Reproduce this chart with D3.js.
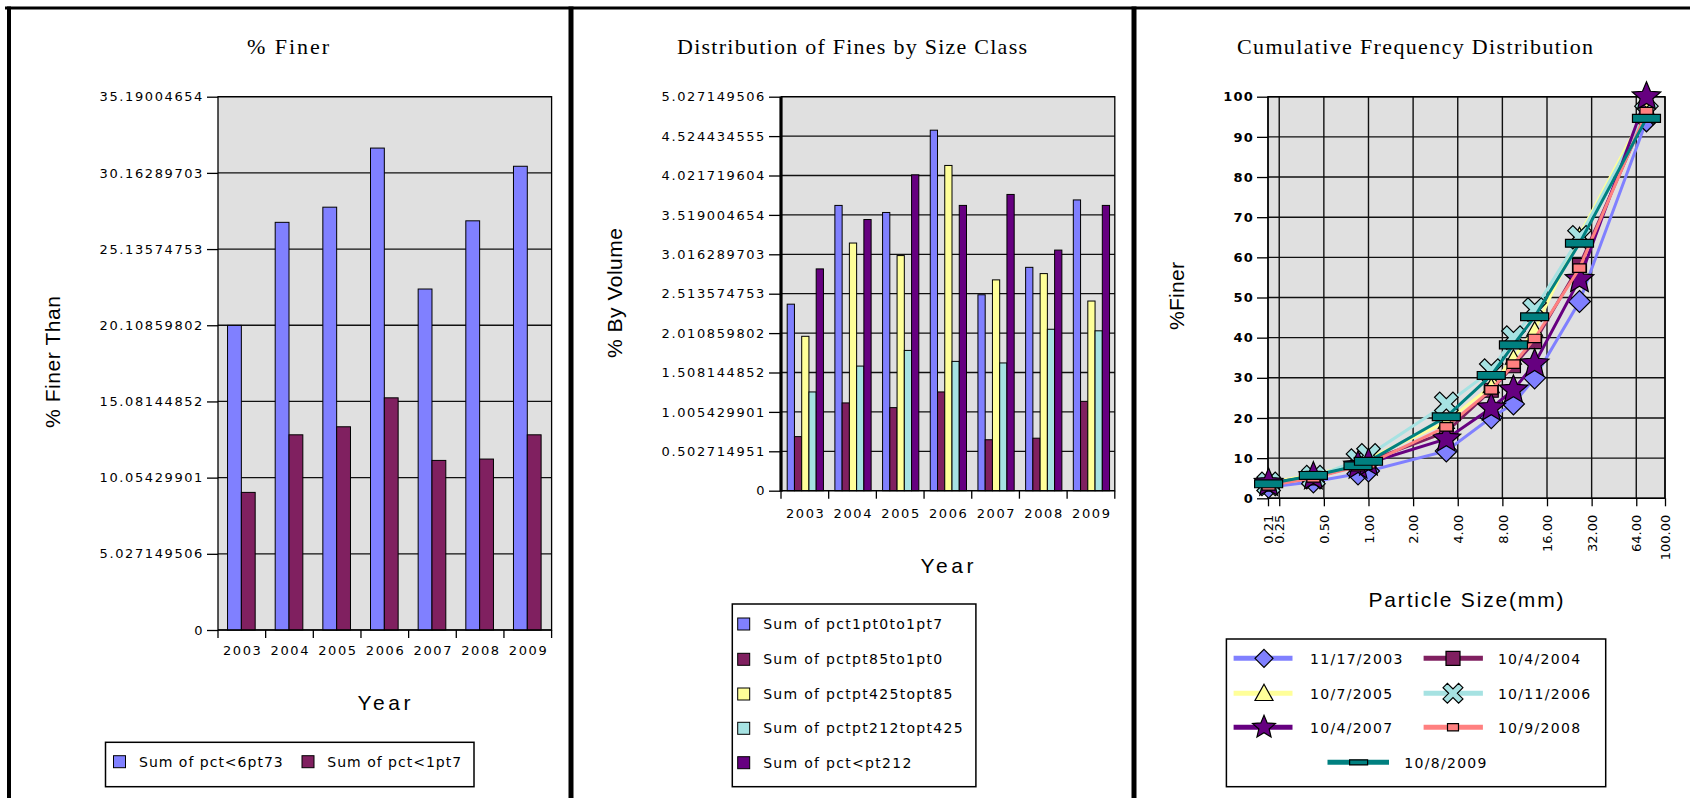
<!DOCTYPE html>
<html><head><meta charset="utf-8">
<script src="https://cdn.jsdelivr.net/npm/d3@7"></script>
<style>body{margin:0;background:#fff;} svg{display:block;}</style>
</head><body>
<svg id="c" width="1690" height="798"></svg>
<script>
// ---------------- DATA ----------------
const years = ["2003","2004","2005","2006","2007","2008","2009"];

// Panel 1: % Finer
const pctLt6pt73 = [20.1, 26.9, 27.9, 31.8, 22.5, 27.0, 30.6];
const pctLt1pt7  = [9.08, 12.88, 13.41, 15.32, 11.19, 11.28, 12.88];
const finerTicks = [0, 5.027149506, 10.05429901, 15.08144852, 20.10859802, 25.13574753, 30.16289703, 35.19004654];
const finerTickLabels = ["0","5.027149506","10.05429901","15.08144852","20.10859802","25.13574753","30.16289703","35.19004654"];
const finerSeriesNames = ["Sum of pct<6pt73","Sum of pct<1pt7"];

// Panel 2: Distribution of Fines by Size Class
const pct1pt0to1pt7   = [2.38, 3.64, 3.55, 4.60, 2.50, 2.85, 3.71];
const pctpt85to1pt0   = [0.69, 1.12, 1.06, 1.26, 0.65, 0.67, 1.14];
const pctpt425topt85  = [1.97, 3.16, 3.00, 4.15, 2.69, 2.77, 2.42];
const pctpt212topt425 = [1.26, 1.59, 1.79, 1.65, 1.63, 2.06, 2.04];
const pctLtpt212      = [2.83, 3.46, 4.03, 3.64, 3.78, 3.07, 3.64];
const volTicks = [0, 0.502714951, 1.005429901, 1.508144852, 2.010859802, 2.513574753, 3.016289703, 3.519004654, 4.021719604, 4.524434555, 5.027149506];
const volTickLabels = ["0","0.502714951","1.005429901","1.508144852","2.010859802","2.513574753","3.016289703","3.519004654","4.021719604","4.524434555","5.027149506"];
const volSeriesNames = ["Sum of pct1pt0to1pt7","Sum of pctpt85to1pt0","Sum of pctpt425topt85","Sum of pctpt212topt425","Sum of pct<pt212"];

// Panel 3: Cumulative Frequency Distribution
const sizes = [0.212, 0.425, 0.85, 1.0, 3.35, 6.73, 9.5, 13.2, 26.5, 75];
const sizeTicks = [0.21, 0.25, 0.5, 1, 2, 4, 8, 16, 32, 64, 100];
const finerTicks3 = [0,10,20,30,40,50,60,70,80,90,100];
const dates = ["11/17/2003","10/4/2004","10/7/2005","10/11/2006","10/4/2007","10/9/2008","10/8/2009"];
const cf2003 = [2.8, 4.1, 6.1, 6.8, 11.8, 20.1, 23.5, 30.0, 49.0, 94.0];
const cf2004 = [3.5, 5.1, 8.2, 9.3, 16.5, 26.9, 33.0, 39.0, 58.0, 96.0];
const cf2005 = [4.0, 5.8, 8.8, 9.9, 19.0, 27.9, 35.0, 42.0, 65.5, 97.0];
const cf2006 = [3.6, 5.3, 9.4, 10.7, 23.5, 31.8, 40.0, 47.0, 65.0, 96.0];
const cf2007 = [3.8, 5.4, 8.1, 8.8, 14.8, 22.5, 27.0, 33.5, 54.5, 100.0];
const cf2008 = [3.1, 5.1, 7.9, 8.6, 17.8, 27.0, 33.4, 39.8, 57.3, 96.3];
const cf2009 = [3.6, 5.7, 8.1, 9.2, 20.3, 30.6, 38.2, 45.2, 63.5, 94.6];

// ---------------- STYLE ----------------
const BLUE="#8080ff", MAROON="#802060", YELLOW="#ffff99", CYAN="#a6e2e2", PURPLE="#660080", SALMON="#ff8080", TEAL="#008080";
const PLOTBG="#e0e0e0";
const SANS="'DejaVu Sans', Verdana, sans-serif";
const SANS2="'Liberation Sans', Arial, sans-serif";
const SERIF="'Liberation Serif', 'Times New Roman', serif";

const svg = d3.select("#c");
const H = 798;

// panel frames
svg.append("rect").attr("x",5).attr("y",6.5).attr("width",1685).attr("height",3).attr("fill","#000");
[[7,4],[568.5,5],[1131.5,5]].forEach(([x,w]) =>
  svg.append("rect").attr("x",x).attr("y",6.5).attr("width",w).attr("height",H).attr("fill","#000"));

function title(x, y, txt, len){
  svg.append("text").attr("x",x).attr("y",y).attr("text-anchor","middle")
    .attr("font-family",SERIF).attr("font-size",22).attr("fill","#000")
    .attr("textLength",len).attr("lengthAdjust","spacing").text(txt);
}
function axisTitle(x, y, txt, len, rot){
  const t = svg.append("text").attr("text-anchor","middle")
    .attr("font-family",SANS2).attr("font-size",21).attr("fill","#000")
    .attr("textLength",len).attr("lengthAdjust","spacing").text(txt);
  if(rot) t.attr("transform",`translate(${x},${y}) rotate(-90)`);
  else t.attr("x",x).attr("y",y);
}
function styleTicks(g, bold, ls){
  g.select(".domain").remove();
  g.selectAll(".tick line").attr("stroke","#000").attr("stroke-width",1.3);
  g.selectAll(".tick text").attr("font-family",SANS).attr("font-size",13)
    .attr("font-weight", bold ? "bold" : "normal").attr("fill","#000")
    .style("letter-spacing", ls + "px");
}

// ============ PANEL 1 ============
{
  const P={x0:218,x1:551.6,y0:96.7,y1:630};
  const x = d3.scaleBand().domain(years).range([P.x0,P.x1]);
  const y = d3.scaleLinear().domain([0,35.19004654]).range([P.y1,P.y0]);
  const g = svg.append("g");
  g.append("rect").attr("x",P.x0).attr("y",P.y0).attr("width",P.x1-P.x0).attr("height",P.y1-P.y0).attr("fill",PLOTBG);
  g.selectAll("line.grid").data(finerTicks).join("line").attr("class","grid")
    .attr("x1",P.x0).attr("x2",P.x1).attr("y1",d=>y(d)).attr("y2",d=>y(d))
    .attr("stroke","#111").attr("stroke-width",1.3);
  const bw = x.bandwidth();
  const inner = d3.scaleBand().domain([0,1]).range([bw*0.2, bw*0.78]);
  const series = [{v:pctLt6pt73,c:BLUE},{v:pctLt1pt7,c:MAROON}];
  series.forEach((s,si)=>{
    g.selectAll(null).data(years).join("rect")
      .attr("x",d=>x(d)+inner(si)).attr("width",inner.bandwidth())
      .attr("y",(d,i)=>y(s.v[i])).attr("height",(d,i)=>y(0)-y(s.v[i]))
      .attr("fill",s.c).attr("stroke","#000").attr("stroke-width",1);
  });
  g.append("rect").attr("x",P.x0).attr("y",P.y0).attr("width",P.x1-P.x0).attr("height",P.y1-P.y0)
    .attr("fill","none").attr("stroke","#000").attr("stroke-width",1.3);
  const ya = g.append("g").attr("transform",`translate(${P.x0},0)`)
    .call(d3.axisLeft(y).tickValues(finerTicks).tickFormat((d,i)=>finerTickLabels[i]).tickSize(11).tickPadding(3));
  styleTicks(ya,false,1.6);
  const xa = g.append("g").attr("transform",`translate(0,${P.y1})`)
    .call(d3.axisBottom(x).tickSize(0).tickPadding(16));
  styleTicks(xa,false,1.6);
  xa.selectAll(".tick text").attr("dx","0.8");
  const bounds = years.map(d=>x(d)).concat([x.range()[1]]);
  g.selectAll(null).data(bounds).join("line").attr("x1",d=>d).attr("x2",d=>d)
    .attr("y1",P.y1).attr("y2",P.y1+8).attr("stroke","#000").attr("stroke-width",1.3);
  title(288, 54, "% Finer", 82);
  axisTitle(384, 710, "Year", 53, false);
  axisTitle(59.5, 362, "% Finer Than", 132, true);
  // legend
  const L = svg.append("g");
  L.append("rect").attr("x",105.5).attr("y",742.3).attr("width",368.5).attr("height",44.4)
    .attr("fill","#fff").attr("stroke","#000").attr("stroke-width",1.5);
  const lx = [[113.5,139],[302,327.3]];
  series.forEach((s,i)=>{
    L.append("rect").attr("x",lx[i][0]).attr("y",755.7).attr("width",12).attr("height",12)
      .attr("fill",s.c).attr("stroke","#000").attr("stroke-width",1);
    L.append("text").attr("x",lx[i][1]).attr("y",766.5).attr("font-family",SANS).attr("font-size",14)
      .style("letter-spacing","1px").text(finerSeriesNames[i]);
  });
}

// ============ PANEL 2 ============
{
  const P={x0:781,x1:1114.8,y0:96.7,y1:490.7};
  const x = d3.scaleBand().domain(years).range([P.x0,P.x1]);
  const y = d3.scaleLinear().domain([0,5.027149506]).range([P.y1,P.y0]);
  const g = svg.append("g");
  g.append("rect").attr("x",P.x0).attr("y",P.y0).attr("width",P.x1-P.x0).attr("height",P.y1-P.y0).attr("fill",PLOTBG);
  g.selectAll("line.grid").data(volTicks).join("line").attr("class","grid")
    .attr("x1",P.x0).attr("x2",P.x1).attr("y1",d=>y(d)).attr("y2",d=>y(d))
    .attr("stroke","#111").attr("stroke-width",1.3);
  const bw = x.bandwidth();
  const inner = d3.scaleBand().domain([0,1,2,3,4]).range([bw*0.13, bw*0.89]);
  const series = [{v:pct1pt0to1pt7,c:BLUE},{v:pctpt85to1pt0,c:MAROON},{v:pctpt425topt85,c:YELLOW},{v:pctpt212topt425,c:CYAN},{v:pctLtpt212,c:PURPLE}];
  series.forEach((s,si)=>{
    g.selectAll(null).data(years).join("rect")
      .attr("x",d=>x(d)+inner(si)).attr("width",inner.bandwidth())
      .attr("y",(d,i)=>y(s.v[i])).attr("height",(d,i)=>y(0)-y(s.v[i]))
      .attr("fill",s.c).attr("stroke","#000").attr("stroke-width",1);
  });
  g.append("rect").attr("x",P.x0).attr("y",P.y0).attr("width",P.x1-P.x0).attr("height",P.y1-P.y0)
    .attr("fill","none").attr("stroke","#000").attr("stroke-width",1.3);
  g.append("line").attr("x1",P.x0).attr("x2",P.x0).attr("y1",P.y0).attr("y2",P.y1+1)
    .attr("stroke","#000").attr("stroke-width",3.2);
  const ya = g.append("g").attr("transform",`translate(${P.x0-1},0)`)
    .call(d3.axisLeft(y).tickValues(volTicks).tickFormat((d,i)=>volTickLabels[i]).tickSize(11).tickPadding(3));
  styleTicks(ya,false,1.6);
  const xa = g.append("g").attr("transform",`translate(0,${P.y1})`)
    .call(d3.axisBottom(x).tickSize(0).tickPadding(18));
  styleTicks(xa,false,1.6);
  xa.selectAll(".tick text").attr("dx","0.8");
  const bounds = years.map(d=>x(d)).concat([x.range()[1]]);
  g.selectAll(null).data(bounds).join("line").attr("x1",d=>d).attr("x2",d=>d)
    .attr("y1",P.y1).attr("y2",P.y1+8).attr("stroke","#000").attr("stroke-width",1.3);
  title(852, 54, "Distribution of Fines by Size Class", 350);
  axisTitle(947, 573, "Year", 53, false);
  axisTitle(621.5, 293, "% By Volume", 130, true);
  const L = svg.append("g");
  L.append("rect").attr("x",732.3).attr("y",604).attr("width",243.6).attr("height",182.7)
    .attr("fill","#fff").attr("stroke","#000").attr("stroke-width",1.5);
  const rows=[624,659.3,694,728.3,762.7];
  series.forEach((s,i)=>{
    L.append("rect").attr("x",737.7).attr("y",rows[i]-6).attr("width",12).attr("height",12)
      .attr("fill",s.c).attr("stroke","#000").attr("stroke-width",1);
    L.append("text").attr("x",763.2).attr("y",rows[i]+5).attr("font-family",SANS).attr("font-size",14)
      .style("letter-spacing","1.3px").text(volSeriesNames[i]);
  });
}

// ============ PANEL 3 ============
function starPath(R){
  const r=R*0.45, pts=[];
  for(let k=0;k<10;k++){const a=-Math.PI/2+k*Math.PI/5, rr=k%2?r:R; pts.push([rr*Math.cos(a), rr*Math.sin(a)]);}
  return "M"+pts.map(p=>p.join(",")).join("L")+"Z";
}
function xPath(r,a){
  const pts=[[a,-r],[a,-a],[r,-a],[r,a],[a,a],[a,r],[-a,r],[-a,a],[-r,a],[-r,-a],[-a,-a],[-a,-r]];
  const c=Math.SQRT1_2;
  return "M"+pts.map(([px,py])=>[(px-py)*c,(px+py)*c].join(",")).join("L")+"Z";
}
const markers = {
  diamond:(s)=>`M0,${-s}L${s},0L0,${s}L${-s},0Z`,
  square:(s)=>`M${-s},${-s}H${s}V${s}H${-s}Z`,
  triangle:(s)=>`M0,${-s}L${s},${s*0.8}L${-s},${s*0.8}Z`,
  cross:(s)=>xPath(s, s*0.28),
  star:(s)=>starPath(s),
  rect:(s)=>`M${-s},${-s*0.65}H${s}V${s*0.65}H${-s}Z`,
  bar:(s)=>`M${-s},${-s*0.28}H${s}V${s*0.28}H${-s}Z`
};
{
  const P={x0:1268,x1:1665,y0:96.7,y1:498.3};
  const x = d3.scaleLog().domain([0.21,100]).range([P.x0,P.x1]);
  const y = d3.scaleLinear().domain([0,100]).range([P.y1,P.y0]);
  const g = svg.append("g");
  g.append("rect").attr("x",P.x0).attr("y",P.y0).attr("width",P.x1-P.x0).attr("height",P.y1-P.y0).attr("fill",PLOTBG);
  g.selectAll(null).data(finerTicks3).join("line")
    .attr("x1",P.x0).attr("x2",P.x1).attr("y1",d=>y(d)).attr("y2",d=>y(d)).attr("stroke","#111").attr("stroke-width",1.4);
  g.selectAll(null).data(sizeTicks).join("line")
    .attr("x1",d=>x(d)).attr("x2",d=>x(d)).attr("y1",P.y0).attr("y2",P.y1).attr("stroke","#111").attr("stroke-width",1.4);
  g.append("rect").attr("x",P.x0).attr("y",P.y0).attr("width",P.x1-P.x0).attr("height",P.y1-P.y0)
    .attr("fill","none").attr("stroke","#000").attr("stroke-width",1.4);
  const ya = g.append("g").attr("transform",`translate(${P.x0},0)`)
    .call(d3.axisLeft(y).tickValues(finerTicks3).tickSize(11).tickPadding(3));
  styleTicks(ya,true,1.2);
  const xa = g.append("g").attr("transform",`translate(0,${P.y1})`)
    .call(d3.axisBottom(x).tickValues(sizeTicks).tickFormat(d3.format(".2f")).tickSize(8));
  styleTicks(xa,false,0);
  xa.selectAll(".tick text").attr("transform","rotate(-90)").attr("text-anchor","end")
    .attr("x",-16.5).attr("y",0).attr("dy","0.36em");

  const series = [
    {v:cf2003,c:BLUE,m:"diamond",s:11,ls:9},
    {v:cf2004,c:MAROON,m:"square",s:7,ls:7},
    {v:cf2005,c:YELLOW,m:"triangle",s:8,ls:9},
    {v:cf2006,c:CYAN,m:"cross",s:13,ls:11},
    {v:cf2007,c:PURPLE,m:"star",s:15,ls:12},
    {v:cf2008,c:SALMON,m:"rect",s:6.5,ls:5.5},
    {v:cf2009,c:TEAL,m:"bar",s:14,ls:9}
  ];
  const line = d3.line().x(d=>x(d[0])).y(d=>y(d[1]));
  series.forEach(s=>{
    const pts = sizes.map((sz,i)=>[sz,s.v[i]]);
    g.append("path").attr("d",line(pts)).attr("fill","none").attr("stroke",s.c).attr("stroke-width",3);
    g.selectAll(null).data(pts).join("path").attr("d",markers[s.m](s.s))
      .attr("transform",d=>`translate(${x(d[0])},${y(d[1])})`)
      .attr("fill",s.c).attr("stroke","#000").attr("stroke-width",1.2);
  });

  title(1415, 54, "Cumulative Frequency Distribution", 356);
  axisTitle(1466, 607, "Particle Size(mm)", 195, false);
  axisTitle(1183.5, 296, "%Finer", 68, true);

  const L = svg.append("g");
  L.append("rect").attr("x",1226.4).attr("y",639).attr("width",379.3).attr("height",147.7)
    .attr("fill","#fff").attr("stroke","#000").attr("stroke-width",1.5);
  const pos = [
    [1233.6,1292.5,1264,1310,658.3],[1423.6,1482.9,1453,1497.9,658.3],
    [1233.6,1292.5,1264,1310,693.3],[1423.6,1482.9,1453,1497.9,693.3],
    [1233.6,1292.5,1264,1310,727.3],[1423.6,1482.9,1453,1497.9,727.3],
    [1327.5,1389,1358.6,1404.3,762.3]
  ];
  series.forEach((s,i)=>{
    const [l0,l1,mx,tx,ry]=pos[i];
    L.append("line").attr("x1",l0).attr("x2",l1).attr("y1",ry).attr("y2",ry).attr("stroke",s.c).attr("stroke-width",5);
    L.append("path").attr("d",markers[s.m](s.ls)).attr("transform",`translate(${mx},${ry})`)
      .attr("fill",s.c).attr("stroke","#000").attr("stroke-width",1.2);
    L.append("text").attr("x",tx).attr("y",ry+5.5).attr("font-family",SANS).attr("font-size",14)
      .style("letter-spacing","1.3px").text(dates[i]);
  });
}
</script>
</body></html>
